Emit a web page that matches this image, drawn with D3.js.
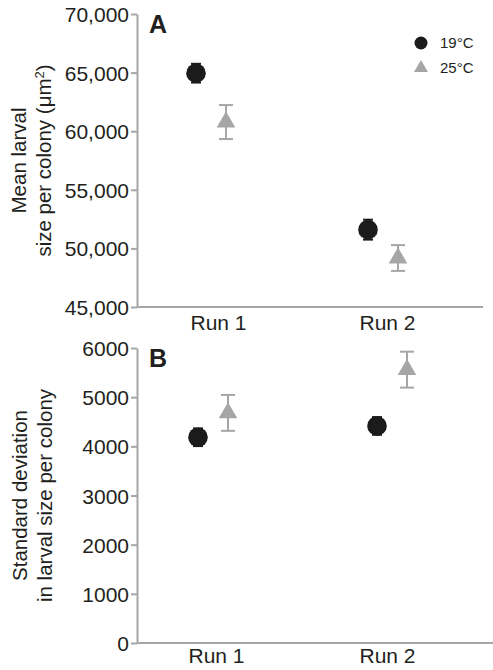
<!DOCTYPE html>
<html>
<head>
<meta charset="utf-8">
<script src="https://cdn.jsdelivr.net/npm/d3@7"></script>
<style>
  body { margin: 0; background: #fff; }
  svg { display: block; font-family: "Liberation Sans", Arial, sans-serif; }
</style>
</head>
<body>
<script>
// ---- data ----
const runs = ["Run 1", "Run 2"];
const temps = ["19°C", "25°C"];

// panel A: mean larval size per colony (µm²)
const meanA19 = [64950, 51600];
const errA19 = [800, 850];
const meanA25 = [60780, 49180];
const errA25 = [1450, 1100];

// panel B: standard deviation in larval size per colony
const meanB19 = [4185, 4415];
const errB19 = [180, 180];
const meanB25 = [4680, 5560];
const errB25 = [365, 365];

const ticksA = [45000, 50000, 55000, 60000, 65000, 70000];
const ticksB = [0, 1000, 2000, 3000, 4000, 5000, 6000];

// ---- setup ----
const W = 493, H = 670;
const axisGray = "#a4a6a9";
const ink = "#231f20";
const triGray = "#a6a6a6";
const dotBlack = "#1b1b1b";

const svg = d3.select("body").append("svg")
  .attr("width", W).attr("height", H);

function panel(opt) {
  const y = d3.scaleLinear().domain(opt.domain).range([opt.bottom, opt.top]);
  const xLab = d3.scalePoint().domain(runs).range(opt.labelRange);
  const xMark = d3.scalePoint().domain(runs).range(opt.markRange);
  const g = svg.append("g");

  // y axis
  const ya = g.append("g")
    .attr("transform", `translate(${opt.left},0)`)
    .call(d3.axisLeft(y).tickValues(opt.ticks).tickFormat(opt.fmt).tickSize(6).tickSizeOuter(0).tickPadding(2));
  ya.select(".domain").attr("stroke", axisGray).attr("stroke-width", 2);
  ya.selectAll(".tick line").attr("stroke", axisGray).attr("stroke-width", 2);
  ya.selectAll(".tick text").attr("fill", ink).style("font-size", "21px").attr("dy", "0.36em");

  // x axis baseline
  g.append("line")
    .attr("x1", opt.left).attr("x2", opt.right)
    .attr("y1", opt.bottom).attr("y2", opt.bottom)
    .attr("stroke", axisGray).attr("stroke-width", 2);

  const xa = g.append("g")
    .attr("transform", `translate(0,${opt.bottom})`)
    .call(d3.axisBottom(xLab).tickSize(0).tickPadding(opt.labPad));
  xa.select(".domain").remove();
  xa.selectAll(".tick text").attr("fill", ink).style("font-size", "21px");

  // y title
  const t = g.append("text")
    .attr("transform", `translate(${opt.titleX},${(opt.top + opt.bottom) / 2}) rotate(-90)`)
    .attr("text-anchor", "middle").attr("fill", ink).style("font-size", "20.5px");
  opt.title.forEach((line, i) => {
    const ts = t.append("tspan").attr("x", 0).attr("dy", i === 0 ? 0 : 25);
    if (typeof line === "string") ts.text(line);
    else line(ts);
  });

  // panel letter
  g.append("text")
    .attr("x", opt.left + 12).attr("y", opt.top + 19)
    .attr("fill", ink).style("font-size", "25px").style("font-weight", "bold")
    .text(opt.letter);

  // error bars
  function errBars(means, errs, dx, color, cap) {
    const eg = g.append("g").attr("stroke", color).attr("stroke-width", 2);
    runs.forEach((r, i) => {
      const cx = xMark(r) + dx;
      const y1 = y(means[i] + errs[i]), y0 = y(means[i] - errs[i]);
      eg.append("line").attr("x1", cx).attr("x2", cx).attr("y1", y1).attr("y2", y0);
      eg.append("line").attr("x1", cx - cap).attr("x2", cx + cap).attr("y1", y1).attr("y2", y1);
      eg.append("line").attr("x1", cx - cap).attr("x2", cx + cap).attr("y1", y0).attr("y2", y0);
    });
  }

  errBars(opt.m19, opt.e19, -15, dotBlack, 5);
  g.append("g").selectAll("circle").data(runs).join("circle")
    .attr("cx", r => xMark(r) - 15)
    .attr("cy", (r, i) => y(opt.m19[i]))
    .attr("r", 9.8)
    .attr("fill", dotBlack);

  errBars(opt.m25, opt.e25, 15, triGray, 7);
  const tri = d3.symbol().type(d3.symbolTriangle).size(150);
  g.append("g").selectAll("path").data(runs).join("path")
    .attr("d", tri)
    .attr("transform", (r, i) => `translate(${xMark(r) + 15},${y(opt.m25[i])})`)
    .attr("fill", triGray);
}

panel({
  letter: "A",
  domain: [45000, 70000], ticks: ticksA, fmt: d3.format(","),
  top: 14, bottom: 307, left: 137, right: 483, titleX: 26, labPad: 8,
  labelRange: [218, 387], markRange: [211, 383],
  m19: meanA19, e19: errA19, m25: meanA25, e25: errA25,
  title: ["Mean larval", ts => {
    ts.text("size per colony (μm");
    ts.append("tspan").attr("baseline-shift", "super").style("font-size", "13px").text("2");
    ts.append("tspan").text(")");
  }]
});

panel({
  letter: "B",
  domain: [0, 6000], ticks: ticksB, fmt: d3.format("d"),
  top: 348, bottom: 643, left: 137, right: 493, titleX: 27, labPad: 5,
  labelRange: [216, 387], markRange: [213, 392],
  m19: meanB19, e19: errB19, m25: meanB25, e25: errB25,
  title: ["Standard deviation", "in larval size per colony"]
});

// legend
const leg = svg.append("g").attr("transform", "translate(421,43)");
leg.append("circle").attr("cx", 0).attr("cy", 0).attr("r", 6.5).attr("fill", dotBlack);
leg.append("path").attr("d", d3.symbol().type(d3.symbolTriangle).size(85)())
  .attr("transform", "translate(0,25)").attr("fill", triGray);
leg.selectAll("text").data(temps).join("text")
  .attr("x", 19).attr("y", (d, i) => i * 25).attr("dy", "0.36em")
  .attr("fill", ink).style("font-size", "15px").text(d => d);
</script>
</body>
</html>
